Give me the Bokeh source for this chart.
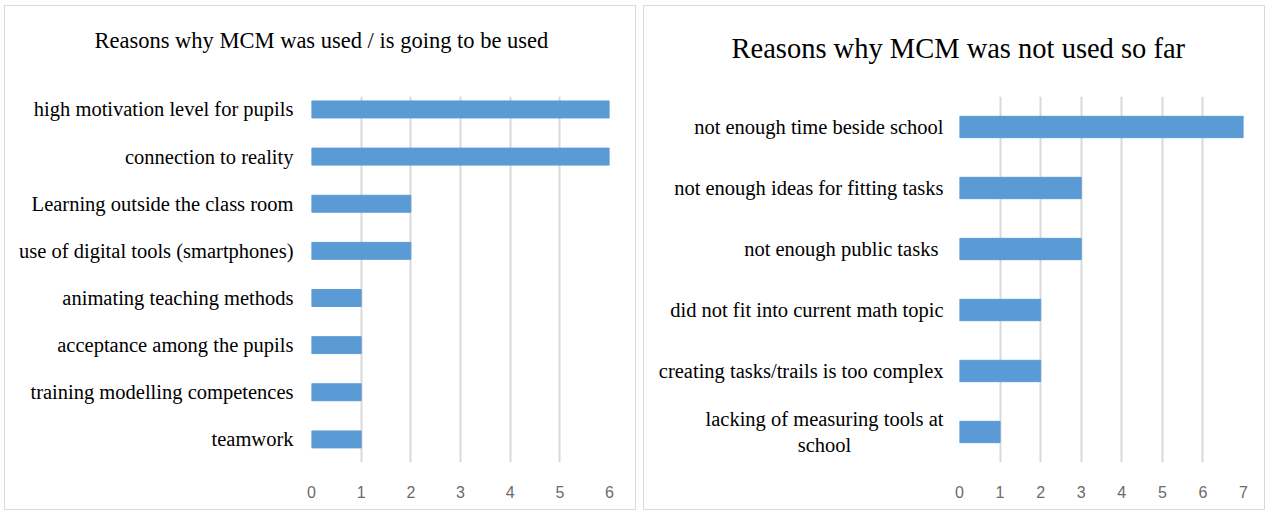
from bokeh.plotting import figure
from bokeh.layouts import row
from bokeh.models import Range1d, FixedTicker, Title
from bokeh.embed import file_html
from bokeh.resources import INLINE

# Left chart data (top to bottom)
left_title = "Reasons why MCM  was used / is going to be used"
left_cats = ["high motivation level for pupils", "connection to reality",
             "Learning outside the class room", "use of digital tools (smartphones)",
             "animating teaching methods", "acceptance among the pupils",
             "training modelling competences", "teamwork"]
left_vals = [6, 6, 2, 2, 1, 1, 1, 1]
left_xticks = [0, 1, 2, 3, 4, 5, 6]

# Right chart data (top to bottom)
right_title = "Reasons why MCM was not used so far"
right_cats = ["not enough time beside school", "not enough ideas for fitting tasks",
              "not enough public tasks ", "did not fit into current math topic",
              "creating tasks/trails is too complex",
              "lacking of measuring tools at\nschool" + "\u00a0" * 18]
right_vals = [7, 3, 3, 2, 2, 1]
right_xticks = [0, 1, 2, 3, 4, 5, 6, 7]

BLUE = "#5B9BD5"
GRID = "#d9d9d9"


def make(title, cats, vals, xticks, width, height, xmax, yr, borders, title_size,
         title_offset, gap, label_size, label_standoff, bar_h):
    n = len(cats)
    ys = [n - 1 - i for i in range(n)]
    p = figure(width=width, height=height, output_backend="svg", toolbar_location=None,
               x_range=Range1d(0, xmax), y_range=Range1d(*yr),
               min_border_left=borders[0], min_border_right=borders[1],
               min_border_top=borders[2], min_border_bottom=borders[3])
    p.title = None
    p.hbar(y=ys, right=vals, left=0, height=bar_h, color=BLUE)
    # spacer between the frame and the title
    p.add_layout(Title(text=" ", text_font_size="1px", standoff=gap), "above")
    p.add_layout(Title(text=title, text_font="Liberation Serif", text_font_style="normal",
                       text_font_size=title_size, text_color="#000000", align="left",
                       offset=title_offset, standoff=0), "above")
    p.outline_line_color = None
    p.ygrid.visible = False
    p.xgrid.grid_line_color = GRID
    p.xgrid.grid_line_width = 2
    p.xaxis.ticker = FixedTicker(ticks=xticks)
    p.xaxis.axis_line_color = None
    p.xaxis.major_tick_line_color = None
    p.xaxis.minor_tick_line_color = None
    p.xaxis.major_label_text_font = "Liberation Sans"
    p.xaxis.major_label_text_font_size = "16px"
    p.xaxis.major_label_text_color = "#6b6b6b"
    p.xaxis.major_label_standoff = 17
    p.yaxis.ticker = FixedTicker(ticks=ys)
    p.yaxis.major_label_overrides = {y: c for y, c in zip(ys, cats)}
    p.yaxis.axis_line_color = None
    p.yaxis.major_tick_line_color = None
    p.yaxis.minor_tick_line_color = None
    p.yaxis.major_label_text_font = "Liberation Serif"
    p.yaxis.major_label_text_font_size = label_size
    p.yaxis.major_label_text_color = "#000000"
    p.yaxis.major_label_standoff = label_standoff
    p.styles = {"border": "1px solid #d9d9d9"}
    return p


left = make(left_title, left_cats, left_vals, left_xticks, 632, 505, 6, (-0.49, 7.275),
            (306, 28, 88, 49), "22.5px", -217, 41, "20.5px", 12, 0.36)
right = make(right_title, right_cats, right_vals, right_xticks, 622, 505, 7, (-0.5, 5.5),
             (315, 23, 90, 49), "28.5px", -228, 30, "20.5px", 10, 0.35)
left.margin = (5, 0, 0, 4)
right.margin = (5, 0, 0, 7)

layout = row(left, right)
open("out.html", "w").write(file_html(layout, INLINE))
